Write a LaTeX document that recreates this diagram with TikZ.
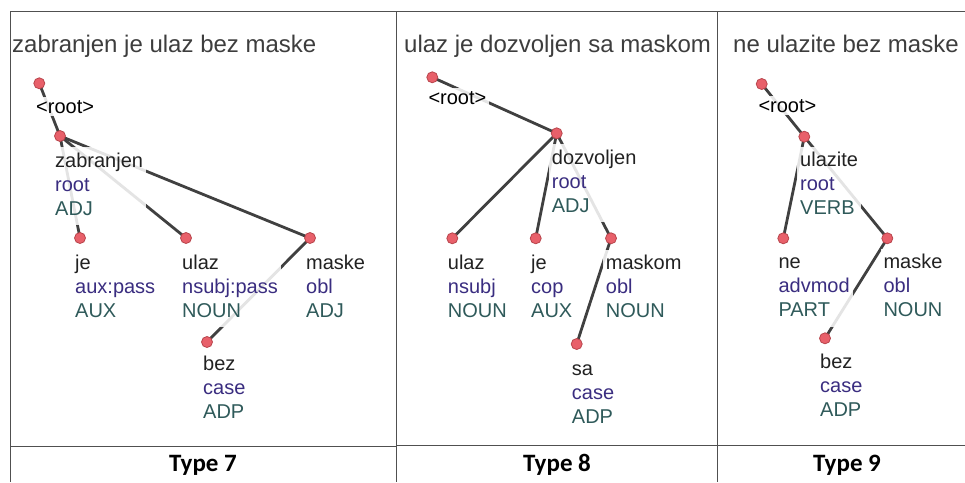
\documentclass[tikz,border=0pt]{standalone}
\usepackage{fontspec}
\setmainfont{Liberation Sans}
\newfontfamily\captionfont{Carlito}
\definecolor{wordc}{HTML}{222222}
\definecolor{relc}{HTML}{3A2D80}
\definecolor{posc}{HTML}{2F5A5A}
\definecolor{headc}{HTML}{3D3D3D}
\definecolor{edgec}{HTML}{404040}
\definecolor{dotfill}{HTML}{E8606A}
\definecolor{dotline}{HTML}{B8454C}
\definecolor{gridc}{HTML}{505050}
\pgfdeclarelayer{edges}
\pgfsetlayers{edges,main}
% three-line token label: form, relation, part of speech
\newcommand\deplabel[3]{\begin{tabular}[t]{@{}l@{}}\color{wordc}#1\\\color{relc}#2\\\color{posc}#3\end{tabular}}
\tikzset{
  x=1pt, y=-1pt,
  dot/.style={circle, inner sep=0pt, minimum size=11pt, fill=dotfill, draw=dotline, line width=0.8pt},
  tok/.style={anchor=base west, inner sep=3pt, fill=white, fill opacity=0.86, text opacity=1,
    font=\fontsize{20}{24}\selectfont},
  rootlbl/.style={tok, text=black},
  dep/.style={draw=edgec, line width=2.8pt},
  heading/.style={anchor=base west, inner sep=0pt, text=headc, font=\fontsize{24}{28}\selectfont},
  typelbl/.style={anchor=base, inner sep=0pt, font=\captionfont\bfseries\fontsize{25}{30}\selectfont},
  grid/.style={draw=gridc, line width=1pt}
}
\begin{document}
\begin{tikzpicture}
\useasboundingbox (0,0) rectangle (965,482);
% table rules
\draw[grid] (10,11.5) -- (965,11.5);
\draw[grid] (10,11.5) -- (10,482);
\draw[grid] (396.5,11.5) -- (396.5,482);
\draw[grid] (717.5,11.5) -- (717.5,482);
\draw[grid] (10,446) -- (396.5,446);
\draw[grid] (396.5,445) -- (965,445);

% ---------- Type 7 ----------
\node[heading] (h7) at (12,52) {zabranjen je ulaz bez maske};
\node[dot] (a0) at (39.3,83.3) {};
\node[dot] (a1) at (60,136) {};
\node[dot] (a2) at (80,238) {};
\node[dot] (a3) at (186,238) {};
\node[dot] (a4) at (310,238) {};
\node[dot] (a5) at (207,342) {};
\node[rootlbl] (la0) at (33,113) {<root>};
\node[tok] (la1) at (52,167) {\deplabel{zabranjen}{root}{ADJ}};
\node[tok] (la2) at (72,269) {\deplabel{je}{aux:pass}{AUX}};
\node[tok] (la3) at (179,269) {\deplabel{ulaz}{nsubj:pass}{NOUN}};
\node[tok] (la4) at (303,269) {\deplabel{maske}{obl}{ADJ}};
\node[tok] (la5) at (200,370) {\deplabel{bez}{case}{ADP}};
\begin{pgfonlayer}{edges}
\draw[dep] (a0.center) -- (a1.center);
\draw[dep] (a1.center) -- (a2.center);
\draw[dep] (a1.center) -- (a3.center);
\draw[dep] (a1.center) -- (a4.center);
\draw[dep] (a4.center) -- (a5.center);
\end{pgfonlayer}
\node[typelbl] (t7) at (203,471.5) {Type 7};

% ---------- Type 8 ----------
\node[heading] (h8) at (404,52) {ulaz je dozvoljen sa maskom};
\node[dot] (b0) at (432.3,77.3) {};
\node[dot] (b1) at (556.7,133.3) {};
\node[dot] (b2) at (452.3,238.3) {};
\node[dot] (b3) at (535.7,238.3) {};
\node[dot] (b4) at (611,238.3) {};
\node[dot] (b5) at (576.7,344) {};
\node[rootlbl] (lb0) at (425.3,104) {<root>};
\node[tok] (lb1) at (548.7,164) {\deplabel{dozvoljen}{root}{ADJ}};
\node[tok] (lb2) at (444.7,269.3) {\deplabel{ulaz}{nsubj}{NOUN}};
\node[tok] (lb3) at (528,269.3) {\deplabel{je}{cop}{AUX}};
\node[tok] (lb4) at (602.7,269.3) {\deplabel{maskom}{obl}{NOUN}};
\node[tok] (lb5) at (568.7,375) {\deplabel{sa}{case}{ADP}};
\begin{pgfonlayer}{edges}
\draw[dep] (b0.center) -- (b1.center);
\draw[dep] (b1.center) -- (b2.center);
\draw[dep] (b1.center) -- (b3.center);
\draw[dep] (b1.center) -- (b4.center);
\draw[dep] (b4.center) -- (b5.center);
\end{pgfonlayer}
\node[typelbl] (t8) at (557,471.5) {Type 8};

% ---------- Type 9 ----------
\node[heading] (h9) at (733,52.5) {ne ulazite bez maske};
\node[dot] (c0) at (761.7,84) {};
\node[dot] (c1) at (804.3,136.7) {};
\node[dot] (c2) at (783.3,238.3) {};
\node[dot] (c3) at (887.3,238.3) {};
\node[dot] (c4) at (825,338.3) {};
\node[rootlbl] (lc0) at (755.3,112.3) {<root>};
\node[tok] (lc1) at (797,166.7) {\deplabel{ulazite}{root}{VERB}};
\node[tok] (lc2) at (775.3,268.3) {\deplabel{ne}{advmod}{PART}};
\node[tok] (lc3) at (880.3,268.3) {\deplabel{maske}{obl}{NOUN}};
\node[tok] (lc4) at (817,368.3) {\deplabel{bez}{case}{ADP}};
\begin{pgfonlayer}{edges}
\draw[dep] (c0.center) -- (c1.center);
\draw[dep] (c1.center) -- (c2.center);
\draw[dep] (c1.center) -- (c3.center);
\draw[dep] (c3.center) -- (c4.center);
\end{pgfonlayer}
\node[typelbl] (t9) at (847,471.5) {Type 9};
\end{tikzpicture}
\end{document}
